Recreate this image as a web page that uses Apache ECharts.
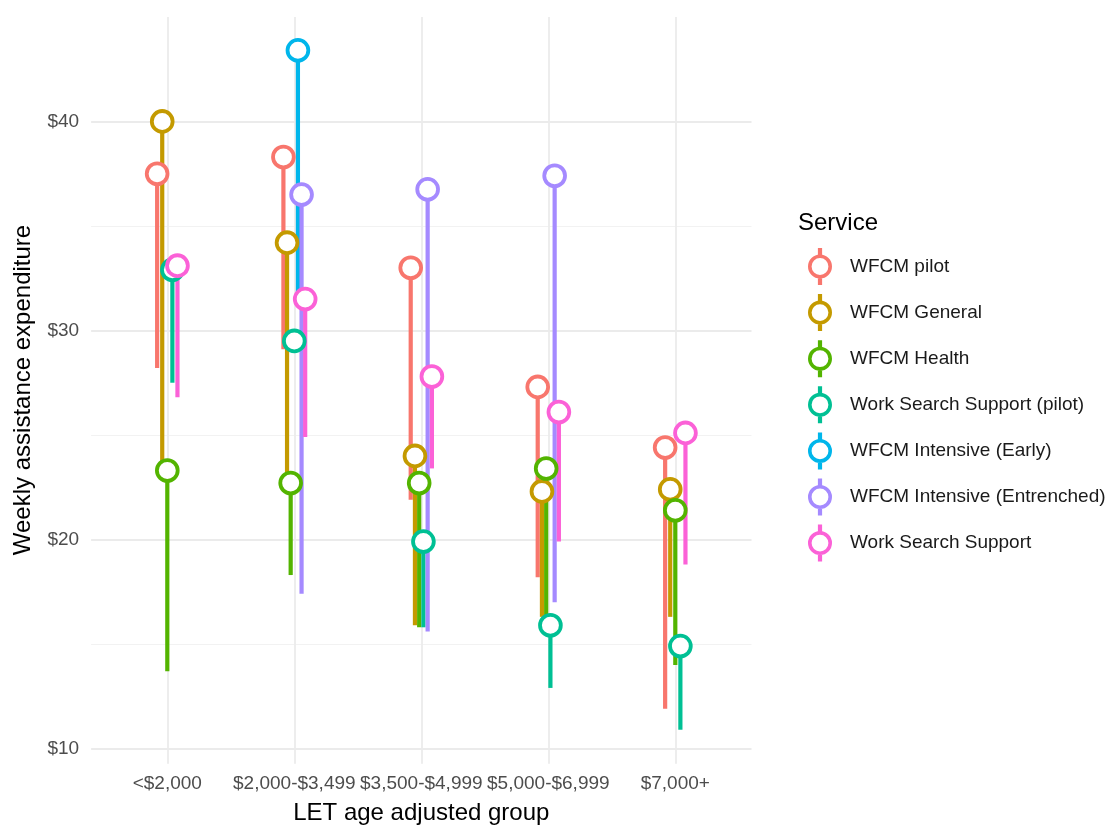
<!DOCTYPE html>
<html>
<head>
<meta charset="utf-8">
<title>Weekly assistance expenditure by LET age adjusted group</title>
<script src="https://cdn.jsdelivr.net/npm/echarts@6/dist/echarts.min.js"></script>
<style>
  html, body { margin: 0; padding: 0; background: #ffffff; }
  #chart { width: 1110px; height: 825px; }
</style>
</head>
<body>
<div id="chart"></div>
<script>
// LET age adjusted groups (x axis)
const categories = ['<$2,000', '$2,000-$3,499', '$3,500-$4,999', '$5,000-$6,999', '$7,000+'];

// Services, in legend order
const services = [
  'WFCM pilot',
  'WFCM General',
  'WFCM Health',
  'Work Search Support (pilot)',
  'WFCM Intensive (Early)',
  'WFCM Intensive (Entrenched)',
  'Work Search Support'
];
const serviceColors = ['#F8766D', '#C49A00', '#53B400', '#00C094', '#00B6EB', '#A58AFF', '#FB61D7'];

// Weekly assistance expenditure ($): estimate and lower end of the range
const wfcmPilotEst        = [37.5, 38.3, 33.0, 27.3, 24.4];
const wfcmPilotLow        = [28.2, 29.1, 21.9, 18.2, 11.9];
const wfcmGeneralEst      = [40.0, 34.2, 24.0, 22.3, 22.4];
const wfcmGeneralLow      = [23.3, 22.6, 15.9, 16.3, 16.3];
const wfcmHealthEst       = [23.3, 22.7, 22.7, 23.4, 21.4];
const wfcmHealthLow       = [13.7, 18.3, 15.8, 16.1, 14.0];
const wssPilotEst         = [32.9, 29.5, 19.9, 15.9, 14.9];
const wssPilotLow         = [27.5, 29.0, 15.8, 12.9, 10.9];
const intensiveEarlyEst   = [null, 43.4, null, null, null];
const intensiveEarlyLow   = [null, 31.6, null, null, null];
const intensiveEntrEst    = [null, 36.5, 36.75, 37.4, null];
const intensiveEntrLow    = [null, 17.4, 15.6, 17.0, null];
const wssEst              = [33.1, 31.5, 27.8, 26.1, 25.1];
const wssLow              = [26.8, 24.9, 23.4, 19.9, 18.8];

const estimates = [wfcmPilotEst, wfcmGeneralEst, wfcmHealthEst, wssPilotEst, intensiveEarlyEst, intensiveEntrEst, wssEst];
const lows      = [wfcmPilotLow, wfcmGeneralLow, wfcmHealthLow, wssPilotLow, intensiveEarlyLow, intensiveEntrLow, wssLow];

// Value range of the panel (includes the usual 5% padding)
const panelMin = 9.275;
const panelMax = 45;

// Total dodge width per group, in category units
const DODGE = 0.2;

// Position of a service inside its group, shared among the services present there
function dodgedX(ci, si) {
  const present = services.map((_, k) => k).filter(k => estimates[k][ci] != null);
  const n = present.length;
  const slot = present.indexOf(si);
  return ci + (slot - (n - 1) / 2) * DODGE / n;
}

const FONT = "'Liberation Sans', Arial, Helvetica, sans-serif";
const LINE_W = 4.2;
const RING_R = 10.4;
const RING_W = 3.8;

// Legend key: ring with a short range stub above and below
const KEY_ICON = 'path://M9.9,0 L14.1,0 L14.1,7.5 L9.9,7.5 Z ' +
  'M9.9,29.5 L14.1,29.5 L14.1,37 L9.9,37 Z ' +
  'M0,18.5 A12,12 0 1,1 24,18.5 A12,12 0 1,1 0,18.5 Z ' +
  'M3.6,18.5 A8.4,8.4 0 1,0 20.4,18.5 A8.4,8.4 0 1,0 3.6,18.5 Z';

function seriesData(si) {
  const out = [];
  categories.forEach((c, ci) => {
    if (estimates[si][ci] != null) {
      out.push([dodgedX(ci, si), estimates[si][ci], lows[si][ci]]);
    }
  });
  return out;
}

const series = [];
// Ranges first, so every point sits above every range
services.forEach((name, si) => {
  const color = serviceColors[si];
  series.push({
    type: 'custom',
    name: name,
    xAxisIndex: 1,
    yAxisIndex: 1,
    z: 2,
    itemStyle: { color: color },
    data: seriesData(si),
    encode: { x: 0, y: [1, 2] },
    renderItem: function (params, api) {
      const top = api.coord([api.value(0), api.value(1)]);
      const bottom = api.coord([api.value(0), api.value(2)]);
      return {
        type: 'line',
        shape: { x1: top[0], y1: top[1], x2: bottom[0], y2: bottom[1] },
        style: { stroke: color, lineWidth: LINE_W, lineCap: 'butt' }
      };
    }
  });
});
services.forEach((name, si) => {
  const color = serviceColors[si];
  series.push({
    type: 'custom',
    name: name,
    xAxisIndex: 1,
    yAxisIndex: 1,
    z: 3,
    itemStyle: { color: color },
    data: seriesData(si),
    encode: { x: 0, y: 1 },
    renderItem: function (params, api) {
      const p = api.coord([api.value(0), api.value(1)]);
      return {
        type: 'circle',
        shape: { cx: p[0], cy: p[1], r: RING_R },
        style: { fill: '#ffffff', stroke: color, lineWidth: RING_W }
      };
    }
  });
});

const chart = echarts.init(document.getElementById('chart'), null, { renderer: 'canvas' });

chart.setOption({
  animation: false,
  backgroundColor: '#ffffff',
  textStyle: { fontFamily: FONT },
  title: {
    text: 'Service',
    left: 798,
    top: 209,
    padding: 0,
    textStyle: { fontSize: 24, fontWeight: 'normal', color: '#000000', fontFamily: FONT, lineHeight: 28 }
  },
  legend: {
    orient: 'vertical',
    left: 808,
    top: 248,
    padding: 0,
    itemWidth: 24,
    itemHeight: 37,
    itemGap: 9.1,
    selectedMode: false,
    textStyle: { fontSize: 19, color: '#1a1a1a', fontFamily: FONT, padding: [0, 0, 0, 13] },
    data: services.map((name, si) => ({ name: name, icon: KEY_ICON, itemStyle: { color: serviceColors[si] } }))
  },
  grid: [
    // full panel: horizontal gridlines and the value labels
    { left: 91.1, right: 358.5, top: 16.9, bottom: 76.5, outerBoundsMode: 'none', containLabel: false },
    // category span: vertical gridlines, group labels and the marks
    { left: 167.3, right: 434.7, top: 16.9, bottom: 61.3, outerBoundsMode: 'none', containLabel: false }
  ],
  xAxis: [
    { type: 'value', gridIndex: 0, min: 0, max: 1, show: false },
    {
      type: 'value',
      gridIndex: 1,
      min: 0,
      max: categories.length - 1,
      interval: 1,
      axisLine: { show: false },
      axisTick: { show: false },
      axisLabel: {
        margin: 11,
        fontSize: 19,
        color: '#4d4d4d',
        fontFamily: FONT,
        formatter: v => categories[v] ?? ''
      },
      splitLine: { show: true, lineStyle: { color: '#ebebeb', width: 1.8 } }
    }
  ],
  yAxis: [
    {
      type: 'value',
      gridIndex: 0,
      min: 10,
      max: panelMax,
      interval: 10,
      axisLine: { show: false },
      axisTick: { show: false },
      axisLabel: {
        margin: 12,
        fontSize: 19,
        color: '#4d4d4d',
        fontFamily: FONT,
        showMaxLabel: false,
        formatter: v => (v % 10 === 0 ? '$' + v : '')
      },
      splitLine: { show: true, showMaxLine: false, lineStyle: { color: '#ebebeb', width: 1.8 } },
      minorTick: { show: false, splitNumber: 2 },
      minorSplitLine: { show: true, lineStyle: { color: '#f2f2f2', width: 1 } }
    },
    { type: 'value', gridIndex: 1, min: panelMin, max: panelMax, show: false, splitLine: { show: false } }
  ],
  graphic: [
    {
      type: 'text',
      x: 421.3,
      y: 813,
      style: {
        text: 'LET age adjusted group',
        fontSize: 24,
        fontFamily: FONT,
        fill: '#000000',
        textAlign: 'center',
        textVerticalAlign: 'middle'
      }
    },
    {
      type: 'text',
      x: 23,
      y: 390,
      rotation: Math.PI / 2,
      style: {
        text: 'Weekly assistance expenditure',
        fontSize: 24,
        fontFamily: FONT,
        fill: '#000000',
        textAlign: 'center',
        textVerticalAlign: 'middle'
      }
    }
  ],
  series: series
});
</script>
</body>
</html>
